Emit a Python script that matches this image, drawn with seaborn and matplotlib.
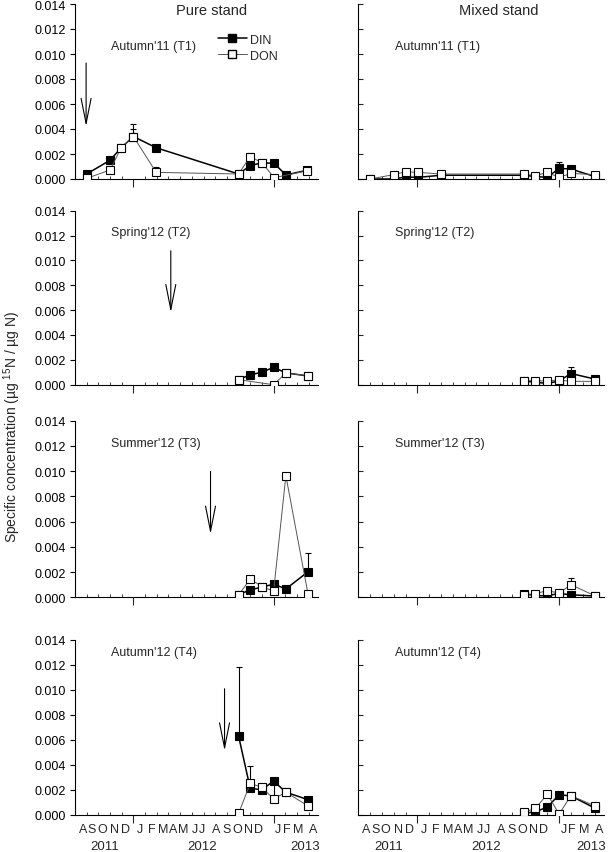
import numpy as np
import matplotlib
matplotlib.use('Agg')
import matplotlib.pyplot as plt
import seaborn as sns
from matplotlib.lines import Line2D

sns.set_theme(style='ticks')
plt.rcParams['font.family'] = ['Liberation Sans', 'DejaVu Sans']
plt.rcParams['mathtext.default'] = 'regular'

nan = np.nan

# x axis: months counted from 1 Aug 2011
month_letters = ['A', 'S', 'O', 'N', 'D', 'J', 'F', 'M', 'A', 'M', 'J',
                 'J', 'A', 'S', 'O', 'N', 'D', 'J', 'F', 'M', 'A']
month_pos = [0.69, 1.46, 2.3, 3.4, 4.3, 5.57, 6.57, 7.57, 8.43, 9.28, 10.28,
             10.9, 12.1, 13.0, 13.85, 14.85, 15.7, 17.4, 18.1, 19.1, 20.4]
years = ['2011', '2012', '2013']
year_pos = [2.57, 10.86, 19.7]

panel_titles = ["Autumn'11 (T1)", "Spring'12 (T2)", "Summer'12 (T3)", "Autumn'12 (T4)"]
arrow_x = [0.95, 8.2, 11.6, 12.8]
arrow_top = [0.0095, 0.0110, 0.0102, 0.0103]
arrow_tip = [0.0040, 0.0056, 0.0048, 0.0049]

# ---- Pure stand ----
x_pure_t1 = [1.0, 3.0, 3.95, 5.0, 6.95, 14.0, 15.0, 16.0, 17.05, 18.05, 19.85]
din_pure_t1 = [0.0004, 0.0015, 0.0025, 0.0034, 0.0025, 0.0004, 0.00107, 0.0013, 0.00125, 0.00032, 0.0007]
din_err_pure_t1 = [0, 0.00026, 0, 0.0006, 0, 0, 0, 0, 0, 0, 0]
don_pure_t1 = [0.00005, 0.00072, 0.0025, 0.0034, 0.00053, 0.0004, 0.0018, 0.0013, 0.0001, nan, 0.00066]
don_err_pure_t1 = [0, 0, 0, 0.001, 0.00045, 0, 0.00025, 0, 0, 0, 0]

x_late = [14.0, 15.0, 16.0, 17.0, 18.05, 19.95]

din_pure_t2 = [0.0004, 0.0008, 0.001, 0.0014, 0.00095, 0.0007]
din_err_pure_t2 = [0, 0, 0, 0.0002, 0, 0]
don_pure_t2 = [0.0004, nan, nan, 0.0, 0.00094, 0.00072]
don_err_pure_t2 = [0, 0, 0, 0, 0, 0]

din_pure_t3 = [0.0002, 0.0006, 0.0008, 0.00105, 0.00066, 0.00203]
din_err_pure_t3 = [0, 0, 0, 0, 0, 0.0015]
don_pure_t3 = [0.00018, 0.00145, 0.00085, 0.00048, 0.00964, 0.00024]
don_err_pure_t3 = [0, 0, 0, 0, 0, 0]

din_pure_t4 = [0.0063, 0.0021, 0.002, 0.0027, 0.0018, 0.0012]
din_err_pure_t4 = [0.0055, 0, 0, 0, 0, 0]
don_pure_t4 = [0.0001, 0.0025, 0.0022, 0.00125, 0.0018, 0.0007]
don_err_pure_t4 = [0, 0.0014, 0, 0.0014, 0, 0]

# ---- Mixed stand ----
x_mixed_t1 = [1.0, 3.0, 4.0, 5.05, 7.0, 14.0, 15.0, 16.0, 17.0, 18.0, 20.0]
din_mixed_t1 = [0.0, 0.0, 0.00016, 0.00013, 0.0003, 0.0003, 0.0002, 0.00013, 0.00085, 0.0008, 0.0002]
din_err_mixed_t1 = [0, 0, 0, 0, 0, 0, 0, 0, 0.00048, 0.00027, 0]
don_mixed_t1 = [0.0, 0.00035, 0.00058, 0.00053, 0.0004, 0.0004, 0.00027, 0.00053, 0.00013, 0.00045, 0.00035]
don_err_mixed_t1 = [0] * 11

x_mixed_late = [14.0, 15.0, 16.0, 17.0, 18.0, 20.0]

din_mixed_t2 = [0.0003, 0.0002, 0.0001, 0.0003, 0.0009, 0.00046]
din_err_mixed_t2 = [0, 0, 0, 0, 0.00055, 0]
don_mixed_t2 = [0.00032, 0.00032, 0.0003, 0.00038, 0.00027, 0.00027]
don_err_mixed_t2 = [0] * 6

din_mixed_t3 = [0.0003, 0.00012, 0.00013, 0.0003, 0.0002, 0.0001]
din_err_mixed_t3 = [0] * 6
don_mixed_t3 = [0.00018, 0.0003, 0.00052, 0.00034, 0.001, 0.00013]
don_err_mixed_t3 = [0, 0, 0, 0, 0.0005, 0]

din_mixed_t4 = [0.0001, 0.00024, 0.0006, 0.0016, 0.0015, 0.00054]
din_err_mixed_t4 = [0] * 6
don_mixed_t4 = [0.0002, 0.0005, 0.00165, 0.00005, 0.00152, 0.00072]
don_err_mixed_t4 = [0] * 6

pure = [
    (x_pure_t1, din_pure_t1, din_err_pure_t1, don_pure_t1, don_err_pure_t1),
    (x_late, din_pure_t2, din_err_pure_t2, don_pure_t2, don_err_pure_t2),
    (x_late, din_pure_t3, din_err_pure_t3, don_pure_t3, don_err_pure_t3),
    (x_late, din_pure_t4, din_err_pure_t4, don_pure_t4, don_err_pure_t4),
]
mixed = [
    (x_mixed_t1, din_mixed_t1, din_err_mixed_t1, don_mixed_t1, don_err_mixed_t1),
    (x_mixed_late, din_mixed_t2, din_err_mixed_t2, don_mixed_t2, don_err_mixed_t2),
    (x_mixed_late, din_mixed_t3, din_err_mixed_t3, don_mixed_t3, don_err_mixed_t3),
    (x_mixed_late, din_mixed_t4, din_err_mixed_t4, don_mixed_t4, don_err_mixed_t4),
]

# --- layout (pixels of a 608x853 figure) ---
W, H = 608, 853
row_top = [5, 211.7, 421.7, 640.7]
row_bot = [180, 385.7, 598.3, 815.7]
col_left = [75, 358.3]
col_width = [243, 245.7]
MS = 5.2

fig = plt.figure(figsize=(W / 100, H / 100), dpi=100)


def draw_series(ax, x, y, err, filled):
    x = np.asarray(x, float)
    y = np.asarray(y, float)
    err = np.asarray(err, float)
    ok = ~np.isnan(y)
    e = ok & (err > 0)
    if e.any():
        ax.errorbar(x[e], y[e], yerr=[np.zeros(e.sum()), err[e]], fmt='none',
                    ecolor='black', elinewidth=0.8, capsize=2.5, capthick=0.8, zorder=1)
    sns.lineplot(x=x[ok], y=y[ok], ax=ax, sort=False, legend=False,
                 color='black' if filled else '#555555',
                 lw=1.1 if filled else 0.7,
                 marker='s', markersize=MS,
                 markerfacecolor='black' if filled else 'white',
                 markeredgecolor='black', markeredgewidth=0.8,
                 zorder=2 if filled else 3)


for col, data in enumerate([pure, mixed]):
    for row in range(4):
        ax = fig.add_axes([col_left[col] / W, 1 - row_bot[row] / H,
                           col_width[col] / W, (row_bot[row] - row_top[row]) / H])
        x, din, din_err, don, don_err = data[row]
        draw_series(ax, x, din, din_err, True)
        draw_series(ax, x, don, don_err, False)

        ax.set_xlim(0, 20.8)
        ax.set_ylim(0, 0.014)
        ax.set_xlabel('')
        ax.set_ylabel('')
        sns.despine(ax=ax)
        for s in ['left', 'bottom']:
            ax.spines[s].set_linewidth(0.8)
            ax.spines[s].set_color('black')

        ax.set_yticks(np.arange(0, 0.0141, 0.002))
        if col == 0:
            ax.set_yticklabels([f'{v:.3f}' for v in np.arange(0, 0.0141, 0.002)])
            ax.tick_params(axis='y', direction='out', length=3.6, width=0.8,
                           pad=3, labelsize=9, colors='black')
        else:
            ax.tick_params(axis='y', direction='in', length=3.6, width=0.8,
                           labelleft=False)
        ax.set_xticks([5, 17])
        ax.set_xticks(np.arange(0, 21), minor=True)
        ax.tick_params(axis='x', which='major', direction='out', length=5.5,
                       width=0.8, labelbottom=False)
        ax.tick_params(axis='x', which='minor', direction='in', length=2,
                       width=0.6)

        ax.text(0.148, [0.76, 0.878, 0.874, 0.928][row], panel_titles[row],
                transform=ax.transAxes, ha='left', va='center', fontsize=9)

        if col == 0:
            ax.annotate('', xy=(arrow_x[row], arrow_tip[row]),
                        xytext=(arrow_x[row], arrow_top[row]),
                        arrowprops=dict(arrowstyle='->,head_length=1.5,head_width=0.3',
                                        lw=0.8, color='black'))

        if row == 3:
            tr = ax.get_xaxis_transform()
            for m, lab in zip(month_pos, month_letters):
                ax.text(m, -0.08, lab, transform=tr, ha='center', va='center', fontsize=9)
            for m, lab in zip(year_pos, years):
                ax.text(m, -0.177, lab, transform=tr, ha='center', va='center', fontsize=9.5)

        if row == 0:
            ax.text(0.564 if col == 0 else 0.573, 0.966,
                    'Pure stand' if col == 0 else 'Mixed stand',
                    transform=ax.transAxes, ha='center', va='center', fontsize=10.5)
            if col == 0:
                handles = [
                    Line2D([], [], color='black', lw=1.1, marker='s', markersize=MS,
                           markerfacecolor='black', markeredgecolor='black'),
                    Line2D([], [], color='#555555', lw=0.7, marker='s', markersize=MS,
                           markerfacecolor='white', markeredgecolor='black'),
                ]
                ax.legend(handles, ['DIN', 'DON'], loc='upper left',
                          bbox_to_anchor=(0.588, 0.83), frameon=False, fontsize=9,
                          handlelength=2.3, handletextpad=0.3, labelspacing=0.3,
                          borderpad=0, borderaxespad=0)

fig.text(12 / W, 1 - 427 / H, 'Specific concentration (µg $^{15}$N / µg N)',
         rotation=90, ha='center', va='center', fontsize=10)

fig.savefig('out.png', dpi=100)
plt.close(fig)
